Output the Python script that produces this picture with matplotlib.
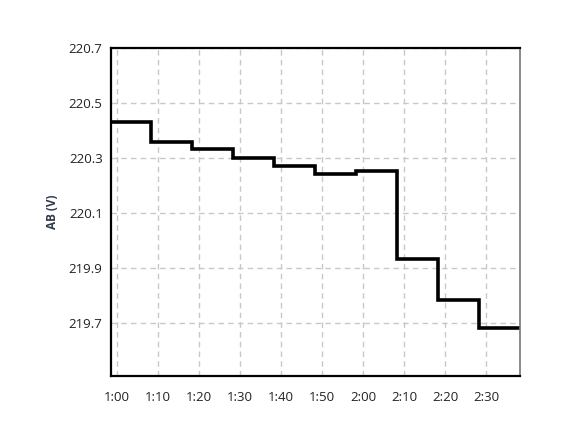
import matplotlib
matplotlib.use("Agg")
import matplotlib.pyplot as plt
from matplotlib.ticker import FixedLocator

# data: step start times (minutes) and voltage values
times = [58.4, 68.4, 78.4, 88.4, 98.4, 108.4, 118.4, 128.4, 138.4, 148.4, 158.4]
values = [220.432, 220.359, 220.333, 220.301, 220.271, 220.241, 220.252, 219.933, 219.782, 219.681, 219.681]
xtick_minutes = [60, 70, 80, 90, 100, 110, 120, 130, 140, 150]
xtick_labels = ["1:00", "1:10", "1:20", "1:30", "1:40", "1:50", "2:00", "2:10", "2:20", "2:30"]
ytick_values = [219.7, 219.9, 220.1, 220.3, 220.5, 220.7]
ytick_labels = ["219.7", "219.9", "220.1", "220.3", "220.5", "220.7"]

plt.rcParams['font.family'] = ['Open Sans', 'DejaVu Sans']

fig = plt.figure(figsize=(5.66, 4.37), dpi=100)
ax = fig.add_axes([111/566, 1 - 376/437, (520-111)/566, (376-48)/437])

ax.step(times, values, where='post', color='black', lw=2.6, solid_joinstyle='miter')

ax.set_xlim(58.54, 158.3)
ax.set_ylim(219.507, 220.7)
ax.xaxis.set_major_locator(FixedLocator(xtick_minutes))
ax.set_xticklabels(xtick_labels)
ax.yaxis.set_major_locator(FixedLocator(ytick_values))
ax.set_yticklabels(ytick_labels)
ax.tick_params(length=0, labelsize=9.5, colors='#222222')
ax.tick_params(axis='x', pad=11)
ax.tick_params(axis='y', pad=6)

ax.grid(True, color='#c8c8c8', linestyle=(0, (4, 3)), lw=1.0)
ax.set_axisbelow(True)

for s in ['left', 'top', 'bottom']:
    ax.spines[s].set_color('black')
    ax.spines[s].set_linewidth(1.6)
ax.spines['right'].set_color('#777777')
ax.spines['right'].set_linewidth(1.2)

ax.set_ylabel("AB (V)", fontsize=8.5, fontweight='bold', color='#2f3a4f', labelpad=7)

fig.savefig("out.png", dpi=100)
